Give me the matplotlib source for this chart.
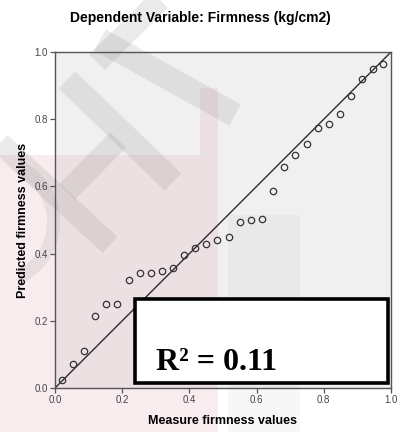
import numpy as np
import matplotlib
matplotlib.use("Agg")
import matplotlib.pyplot as plt
from matplotlib.patches import Rectangle, Polygon, Wedge

plt.rcParams['font.family'] = ['Liberation Sans', 'DejaVu Sans']

# measured vs predicted firmness (normalised)
measured = [0.021, 0.054, 0.086, 0.119, 0.152, 0.185, 0.220, 0.253, 0.286, 0.318,
            0.351, 0.384, 0.417, 0.449, 0.482, 0.518, 0.551, 0.583, 0.616, 0.649,
            0.682, 0.714, 0.750, 0.783, 0.815, 0.848, 0.881, 0.914, 0.946, 0.976]
predicted = [0.024, 0.071, 0.110, 0.214, 0.250, 0.250, 0.321, 0.342, 0.342, 0.348,
             0.357, 0.396, 0.417, 0.429, 0.440, 0.449, 0.494, 0.500, 0.503, 0.586,
             0.658, 0.693, 0.726, 0.774, 0.786, 0.815, 0.869, 0.920, 0.949, 0.964]
ticks = [0.0, 0.2, 0.4, 0.6, 0.8, 1.0]
r_squared = 0.11

W, H = 398, 432
fig = plt.figure(figsize=(W / 100, H / 100), dpi=100)
fig.patch.set_facecolor('white')
ax = fig.add_axes([55 / W, 1 - 388 / H, 336 / W, 336 / H])
ax.set_facecolor('#f0f0f0')


def px(points):
    # pixel coords (top-left origin) -> figure fraction
    return [(x / W, 1 - y / H) for x, y in points]


def shade(points, color, alpha, z=0.9):
    ax.add_patch(Polygon(px(points), closed=True, transform=fig.transFigure,
                         facecolor=color, edgecolor='none', alpha=alpha,
                         clip_on=False, zorder=z))


def band(p0, p1, width, color='#808080', alpha=0.16):
    (x0, y0), (x1, y1) = p0, p1
    d = np.array([x1 - x0, y1 - y0], float)
    n = np.array([-d[1], d[0]]) / np.hypot(*d) * width / 2
    shade([(x0 + n[0], y0 + n[1]), (x1 + n[0], y1 + n[1]),
           (x1 - n[0], y1 - n[1]), (x0 - n[0], y0 - n[1])], color, alpha, 1)


# faint background logo
shade([(0, 155), (218, 155), (218, 432), (0, 432)], '#e3a9b3', 0.22)
shade([(200, 88), (218, 88), (218, 155), (200, 155)], '#e3a9b3', 0.22)
shade([(228, 215), (300, 215), (300, 432), (228, 432)], '#9a9a9a', 0.07)
band((100, 40), (235, 115), 24)
band((97, 62), (160, 0), 22)
band((67, 80), (173, 182), 24)
band((118, 140), (67, 192), 22)
band((0, 143), (110, 245), 22)
ax.add_patch(Wedge((0, 1 - 222 / H), 60 / W, -70, 70, width=13 / W,
                   transform=fig.transFigure, facecolor='#808080',
                   edgecolor='none', alpha=0.13, clip_on=False, zorder=1))

# reference line and points
ax.plot([0, 1], [0, 1], color='#2b2b2b', lw=1.0, zorder=2)
ax.plot(measured, predicted, 'o', mfc='none', mec='#333333', mew=0.9,
        ms=4.6, zorder=2.5)

ax.set_xlim(0, 1)
ax.set_ylim(0, 1)
ax.set_xticks(ticks)
ax.set_yticks(ticks)
ax.set_xticklabels([f'{t:.1f}' for t in ticks])
ax.set_yticklabels([f'{t:.1f}' for t in ticks])
ax.tick_params(length=3.5, width=0.9, color='#555555', labelsize=7,
               labelcolor='#444444', pad=1.5)
for s in ax.spines.values():
    s.set_color('#555555')
    s.set_linewidth(1.0)

ax.set_xlabel('Measure firmness values', fontsize=9, fontweight='bold',
              labelpad=7)
ax.set_ylabel('Predicted firmness values', fontsize=9, fontweight='bold',
              labelpad=4)
fig.text(200 / W, 1 - 18 / H, 'Dependent Variable: Firmness (kg/cm2)',
         ha='center', va='center', fontsize=10, fontweight='bold')

# R squared box
ax.add_patch(Rectangle((0.238, 0.015), 0.753, 0.25, facecolor='white',
                       edgecolor='black', lw=2.6, zorder=3))
ax.text(0.30, 0.054, f'R² = {r_squared:.2f}', fontsize=23, fontweight='bold',
        family=['Liberation Serif', 'DejaVu Serif'], va='baseline',
        ha='left', zorder=4)

fig.savefig('out.png', dpi=100)
